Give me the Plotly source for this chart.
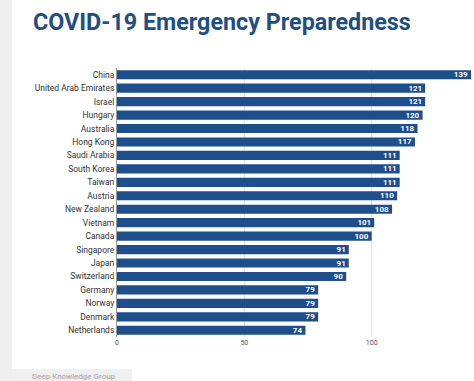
import plotly.graph_objects as go

countries = ["China", "United Arab Emirates", "Israel", "Hungary", "Australia", "Hong Kong",
             "Saudi Arabia", "South Korea", "Taiwan", "Austria", "New Zealand", "Vietnam",
             "Canada", "Singapore", "Japan", "Switzerland", "Germany", "Norway", "Denmark",
             "Netherlands"]
scores = [139, 121, 121, 120, 118, 117, 111, 111, 111, 110, 108, 101, 100, 91, 91, 90, 79, 79, 79, 74]
x_ticks = [0, 50, 100]

W, H = 474, 381
L, R, T, B = 117, 3, 68, 44
pw = W - L - R
ph = H - T - B

fig = go.Figure(go.Bar(
    x=scores, y=countries, orientation="h",
    marker=dict(color="#1f4e8c", line=dict(width=0)),
    text=[str(v) for v in scores], textposition="inside", insidetextanchor="end",
    constraintext="none",
    textfont=dict(family="Roboto", size=8, color="white"),
    texttemplate="<b>%{text}</b>",
    hoverinfo="skip",
))

fig.update_layout(
    width=W, height=H,
    margin=dict(l=L, r=R, t=T, b=B, autoexpand=False),
    paper_bgcolor="white", plot_bgcolor="white",
    bargap=0.32,
    showlegend=False,
    font=dict(family="Roboto", color="#333333"),
    xaxis=dict(range=[0, 139], tickvals=x_ticks, ticktext=[str(t) for t in x_ticks],
               showgrid=True, gridcolor="#e4e4e4", gridwidth=1, zeroline=False,
               tickfont=dict(size=7, color="#555555"), ticks="", ticklen=0, automargin=False),
    yaxis=dict(autorange="reversed", showline=True, linecolor="#999999", linewidth=1,
               tickfont=dict(size=8.5, color="#333333"), ticks="", showgrid=False,
               automargin=False),
    shapes=[
        dict(type="rect", xref="paper", yref="paper",
             x0=-L / pw, x1=(12 - L) / pw, y0=-B / ph, y1=1 + T / ph,
             fillcolor="#efefef", line=dict(width=0), layer="below"),
        dict(type="rect", xref="paper", yref="paper",
             x0=(12 - L) / pw, x1=(132 - L) / pw, y0=-B / ph, y1=-(369 - T - ph) / ph,
             fillcolor="#f0f0f0", line=dict(width=0), layer="below"),
    ],
    annotations=[
        dict(text="<b>COVID-19 Emergency Preparedness</b>", xref="paper", yref="paper",
             x=(31 - L) / pw, y=1 + (T - 22) / ph, xanchor="left", yanchor="middle",
             showarrow=False, font=dict(family="Roboto", size=23.3, color="#1f4e85")),
        dict(text="Deep Knowledge Group", xref="paper", yref="paper",
             x=(30 - L) / pw, y=-(376 - T - ph) / ph, xanchor="left", yanchor="middle",
             showarrow=False, font=dict(family="Roboto", size=8, color="#a0a0a0")),
    ],
)

fig.write_html("out.html", config={"displayModeBar": False},
               post_script="document.body.style.margin='0';document.body.style.padding='0';")
